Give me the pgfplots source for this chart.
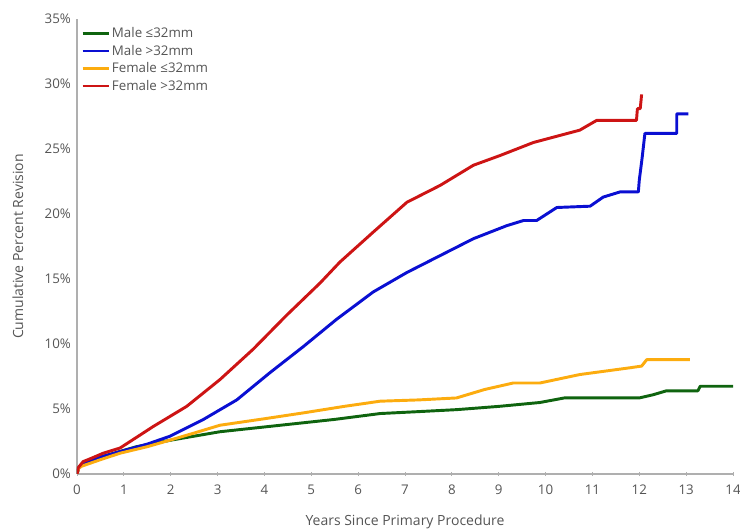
\documentclass[border=0pt]{standalone}
\usepackage{fontspec}
\setmainfont{Open Sans}
\usepackage{pgfplots}
\pgfplotsset{compat=1.18}
\definecolor{kmgreen}{RGB}{15,100,15}
\definecolor{kmblue}{RGB}{10,15,210}
\definecolor{kmorange}{RGB}{252,172,15}
\definecolor{kmred}{RGB}{205,20,20}
\definecolor{txtgrey}{RGB}{85,85,85}
\definecolor{axgrey}{RGB}{175,175,175}
\begin{document}
\begin{tikzpicture}
\begin{axis}[
  scale only axis,
  width=492pt, height=341.25pt,
  xmin=0, xmax=14, ymin=0, ymax=35,
  axis x line*=bottom, axis y line*=left,
  axis line style={axgrey, line width=0.8pt},
  xtick={0,1,...,14}, ytick={0,5,...,35},
  yticklabel={\pgfmathprintnumber{\tick}\%},
  /pgf/number format/assume math mode=true,
  ytick style={draw=none},
  xtick style={axgrey, line width=0.6pt},
  major tick length=3pt,
  xtick align=center,
  tick label style={font=\fontsize{10}{12}\selectfont, text=txtgrey},
  xticklabel style={yshift=-3pt},
  yticklabel style={xshift=-1pt},
  label style={font=\fontsize{10.5}{12}\selectfont, text=txtgrey},
  xlabel={Years Since Primary Procedure},
  ylabel={Cumulative Percent Revision},
  xlabel style={at={(axis description cs:0.5,0)}, anchor=center, yshift=-36pt},
  ylabel style={at={(axis description cs:-0.09,0.5)}, anchor=center},
  legend style={at={(3pt,336pt)}, anchor=north west, draw=none, fill=none,
    font=\fontsize{10}{12}\selectfont, text=txtgrey, row sep=2pt,
    inner sep=0pt, nodes={inner sep=1pt}},
  legend cell align=left,
  legend image code/.code={\draw[#1, line width=2pt] (0pt,0pt) -- (20pt,0pt);},
  every axis plot/.append style={line width=2.2pt, line join=round},
]
\addplot[kmgreen] coordinates {(0,0) (0.04,0.5) (0.1,0.75) (0.5,1.3) (1.27,2.1) (2.0,2.6) (3.05,3.25) (4.47,3.8) (5.5,4.2) (6.47,4.65) (7.3,4.8) (8.1,4.95) (9.0,5.2) (9.88,5.5) (10.4,5.85) (12.0,5.85) (12.3,6.1) (12.58,6.4) (13.25,6.4) (13.3,6.75) (14.0,6.75)};
\addlegendentry{Male ≤32mm}
\addplot[kmblue] coordinates {(0,0) (0.04,0.5) (0.1,0.75) (0.5,1.3) (1,1.8) (1.5,2.3) (1.98,2.9) (2.7,4.2) (3.41,5.7) (4.12,7.8) (4.83,9.8) (5.54,11.9) (6.32,14.0) (7.04,15.5) (7.75,16.8) (8.46,18.1) (9.17,19.1) (9.53,19.5) (9.81,19.5) (10.24,20.5) (10.95,20.6) (11.23,21.3) (11.59,21.7) (11.98,21.7) (12.0,22.6) (12.06,24.3) (12.12,26.2) (12.8,26.2) (12.8,27.7) (13.05,27.7)};
\addlegendentry{Male >32mm}
\addplot[kmorange] coordinates {(0,0) (0.04,0.45) (0.1,0.6) (0.5,1.1) (0.92,1.6) (1.5,2.1) (1.98,2.6) (2.5,3.15) (3.05,3.75) (4.0,4.25) (4.83,4.7) (5.7,5.2) (6.47,5.6) (7.3,5.7) (8.1,5.85) (8.7,6.5) (9.31,7.0) (9.88,7.0) (10.73,7.65) (11.8,8.17) (12.05,8.3) (12.16,8.8) (13.08,8.8)};
\addlegendentry{Female ≤32mm}
\addplot[kmred] coordinates {(0,0) (0.03,0.5) (0.13,0.95) (0.3,1.2) (0.56,1.6) (0.92,2.0) (1.63,3.66) (2.34,5.2) (3.05,7.26) (3.76,9.6) (4.47,12.2) (5.19,14.7) (5.61,16.3) (6.32,18.6) (7.04,20.9) (7.75,22.2) (8.46,23.75) (9.03,24.5) (9.74,25.5) (10.73,26.45) (11.09,27.2) (11.94,27.2) (11.96,28.1) (12.02,28.1) (12.05,29.2)};
\addlegendentry{Female >32mm}
\end{axis}
\pgfresetboundingbox
\path (current axis.south west) ++(-57.75pt,-42.75pt) rectangle (current axis.north east) ++(5.25pt,14.25pt);
\end{tikzpicture}
\end{document}
